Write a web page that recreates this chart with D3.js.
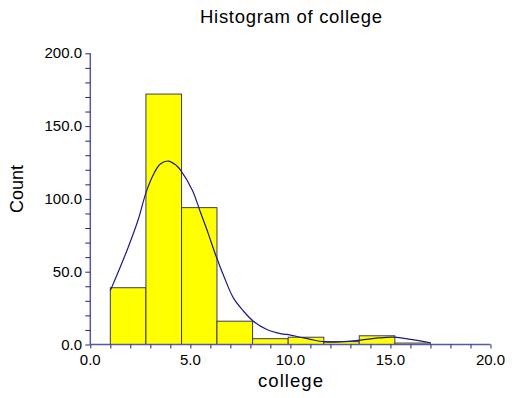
<!DOCTYPE html>
<html>
<head>
<meta charset="utf-8">
<script src="https://cdn.jsdelivr.net/npm/d3@7"></script>
<style>
  html, body { margin: 0; padding: 0; background: #ffffff; }
  svg { display: block; }
  text { font-family: "Liberation Sans", Arial, sans-serif; fill: #000; }
</style>
</head>
<body>
<svg id="chart" width="512" height="398"></svg>
<script>
// Histogram bins of "college": edges and counts
const binEdges = [1.0, 2.78, 4.56, 6.33, 8.11, 9.89, 11.67, 13.44, 15.22, 17.0];
const binCounts = [39, 172, 94, 16, 4, 5, 2, 6, 1];

// Smoothed density trace, scaled to counts
const densityX = [1.0, 1.4, 1.9, 2.4, 2.8, 3.2, 3.5, 3.9, 4.3, 4.5, 5.1, 5.5, 5.9, 6.25, 6.7, 7.15, 7.65, 8.15, 8.8, 9.5, 10.0, 10.5, 11.0, 11.7, 12.5, 13.5, 14.4, 15.2, 16.0, 17.0];
const densityY = [37, 50, 67, 86, 105, 118, 124, 126, 123, 120, 106, 91, 76, 62, 46, 32, 23, 16, 10.5, 7.5, 6.5, 5, 3.5, 1.8, 1.8, 3, 4.5, 5, 3.5, 1.2];

// Axis tick labels
const xTickValues = [0, 5, 10, 15, 20];
const yTickValues = [0, 50, 100, 150, 200];

const svg = d3.select("#chart");

const x = d3.scaleLinear().domain([0, 20]).range([90.3, 490.5]);
const y = d3.scaleLinear().domain([0, 200]).range([344.5, 53.3]);

const axisColor = "#5858a8";
const tickColor = "#24247e";

// Bars
const bins = binCounts.map((c, i) => ({ x0: binEdges[i], x1: binEdges[i + 1], count: c }));
svg.append("g")
  .selectAll("rect")
  .data(bins)
  .join("rect")
  .attr("x", d => x(d.x0))
  .attr("y", d => y(d.count))
  .attr("width", d => x(d.x1) - x(d.x0))
  .attr("height", d => y(0) - y(d.count))
  .attr("fill", "#ffff00")
  .attr("stroke", "#3c3c5c")
  .attr("stroke-width", 1);

// Density curve
const pts = densityX.map((v, i) => [v, densityY[i]]);
svg.append("path")
  .datum(pts)
  .attr("fill", "none")
  .attr("stroke", "#1a1a86")
  .attr("stroke-width", 1.2)
  .attr("d", d3.line().x(d => x(d[0])).y(d => y(d[1])).curve(d3.curveCatmullRom.alpha(0.5)));

// X axis
const xAxis = d3.axisBottom(x)
  .tickValues(d3.range(0, 21, 1))
  .tickSize(4)
  .tickFormat("");
const gx = svg.append("g").attr("transform", `translate(0,${y(0)})`).call(xAxis);
gx.select(".domain").attr("stroke", axisColor).attr("stroke-width", 1.5).attr("d", `M${x(0)},0H${x(20)}`);
gx.selectAll(".tick line").attr("stroke", tickColor);

svg.append("g")
  .selectAll("text")
  .data(xTickValues)
  .join("text")
  .attr("x", d => x(d))
  .attr("y", 365)
  .attr("text-anchor", "middle")
  .style("font-size", "15px")
  .text(d => d.toFixed(1));

// Y axis
const yAxis = d3.axisLeft(y)
  .tickValues(d3.range(0, 201, 10))
  .tickSize(5)
  .tickFormat("");
const gy = svg.append("g").attr("transform", `translate(${x(0)},0)`).call(yAxis);
gy.select(".domain").attr("stroke", axisColor).attr("stroke-width", 1.5).attr("d", `M0,${y(0)}V${y(200)}`);
gy.selectAll(".tick line").attr("stroke", tickColor);

svg.append("g")
  .selectAll("text")
  .data(yTickValues)
  .join("text")
  .attr("x", 82)
  .attr("y", d => y(d) + 5)
  .attr("text-anchor", "end")
  .style("font-size", "15px")
  .text(d => d.toFixed(1));

// Titles
svg.append("text")
  .attr("x", 291)
  .attr("y", 23)
  .attr("text-anchor", "middle")
  .attr("textLength", 182)
  .attr("lengthAdjust", "spacing")
  .style("font-size", "18.5px")
  .text("Histogram of college");

svg.append("text")
  .attr("x", 290.5)
  .attr("y", 387)
  .attr("text-anchor", "middle")
  .attr("textLength", 65)
  .attr("lengthAdjust", "spacing")
  .style("font-size", "18.5px")
  .text("college");

svg.append("text")
  .attr("transform", "translate(23,189) rotate(-90)")
  .attr("text-anchor", "middle")
  .style("font-size", "18px")
  .text("Count");
</script>
</body>
</html>
